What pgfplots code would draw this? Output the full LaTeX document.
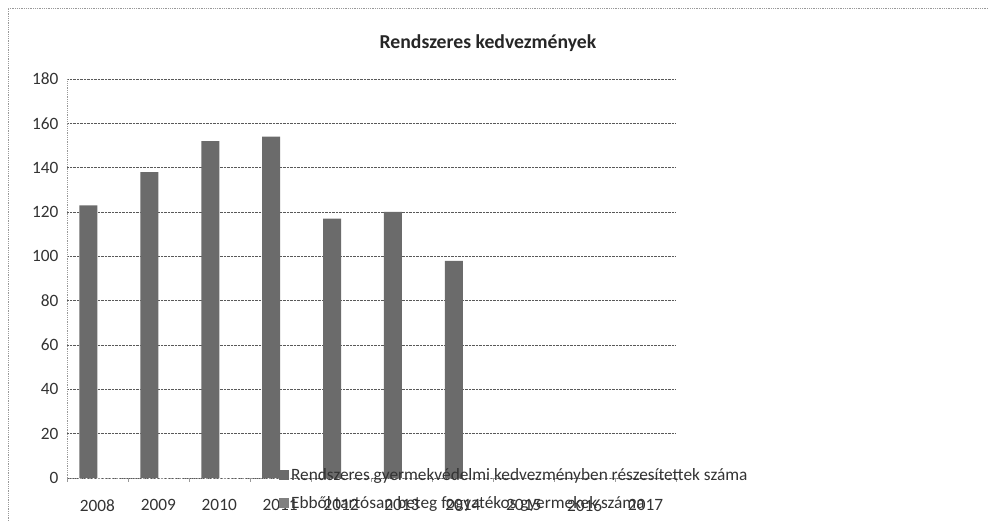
\documentclass[border=0pt]{standalone}
\usepackage{pgfplots}
\pgfplotsset{compat=1.18}
\usepackage{fontspec}
\setmainfont{Carlito}
\begin{document}
\begin{tikzpicture}[x=1pt,y=1pt]
\useasboundingbox (0,0) rectangle (988,521);
\draw[densely dotted, black!40, line width=0.8pt] (8,0) -- (8,513) -- (988,513);
\node[font=\bfseries\fontsize{19.7}{24}\selectfont, text=black!85] at (488,478) {Rendszeres kedvezmények};
\begin{axis}[
  at={(67pt,43pt)}, anchor=south west,
  scale only axis, width=609pt, height=399pt,
  xmin=-0.5, xmax=9.5, ymin=0, ymax=180,
  xtick={0,...,9},
  xticklabels={2008,2009,2010,2011,2012,2013,2014,2015,2016,2017},
  minor xtick={-0.5,0.5,...,9.5},
  ytick={0,20,...,180},
  ymajorgrids,
  grid style={densely dotted, black!65, line width=0.7pt},
  axis x line*=bottom, axis y line*=left,
  axis line style={densely dotted, black!40, line width=0.8pt, -},
  major tick length=0pt,
  minor tick length=4pt,
  tick align=outside,
  minor tick style={black!40},
  tick label style={font=\fontsize{17.3}{19}\selectfont, text=black!80},
  /pgf/number format/assume math mode=true,
  yticklabel style={xshift=-5pt},
  xticklabel style={yshift=-18pt},
  legend style={at={(0.343,0.035)}, anchor=north west, draw=none, fill=none,
    font=\fontsize{17.3}{19}\selectfont, text=black!80, row sep=11pt,
    /tikz/every even column/.append style={column sep=2pt}},
  legend cell align=left,
  legend image code/.code={\fill[#1] (0pt,-5pt) rectangle (10pt,5pt);},
]
\addplot[ybar, bar width=18pt, bar shift=-9pt, fill=black!58, draw=none]
  coordinates {(0,123) (1,138) (2,152) (3,154) (4,117) (5,120) (6,98)};
\addlegendentry{Rendszeres gyermekvédelmi kedvezményben részesítettek száma}
\addlegendimage{fill=black!50, draw=none}
\addlegendentry{Ebből tartósan beteg fogyatékos gyermekek száma}
\end{axis}
\end{tikzpicture}
\end{document}
